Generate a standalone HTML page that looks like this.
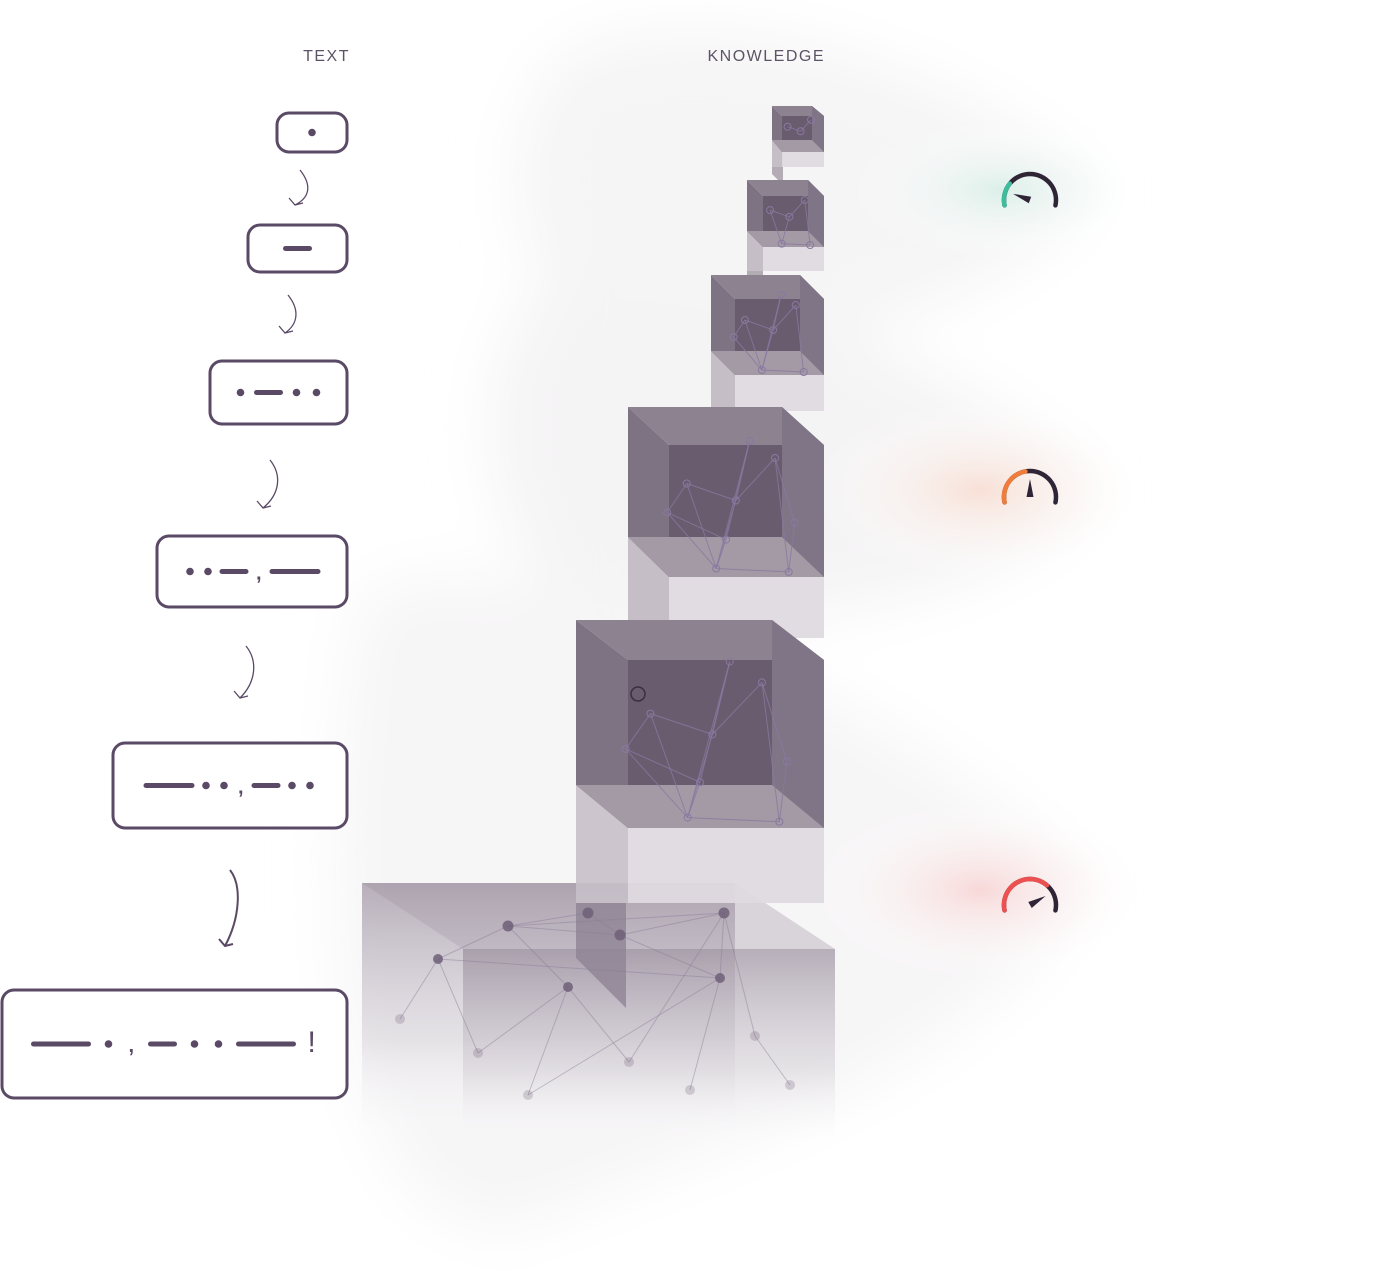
<!DOCTYPE html>
<html><head><meta charset="utf-8"><style>
html,body{margin:0;padding:0;background:#fff;}
#wrap{position:relative;width:1377px;height:1271px;overflow:hidden;font-family:"Liberation Sans",sans-serif;}
svg{position:absolute;left:0;top:0;}
</style></head><body>
<div id="wrap">
<svg id="s" width="1377" height="1271" viewBox="0 0 1377 1271">
<defs>
<filter id="blur40" x="-50%" y="-50%" width="200%" height="200%"><feGaussianBlur stdDeviation="30"/></filter>
<linearGradient id="fadeBig" x1="0" y1="0" x2="0" y2="1">
<stop offset="0" stop-color="#9a8f9e" stop-opacity="0.7"/>
<stop offset="0.6" stop-color="#c9c3cc" stop-opacity="0.4"/>
<stop offset="1" stop-color="#ffffff" stop-opacity="0"/>
</linearGradient>
<radialGradient id="gTeal"><stop offset="0" stop-color="#dcefe9"/><stop offset="1" stop-color="#fff" stop-opacity="0"/></radialGradient>
<radialGradient id="gOrange"><stop offset="0" stop-color="#f8e0d6"/><stop offset="1" stop-color="#fff" stop-opacity="0"/></radialGradient>
<radialGradient id="gRed"><stop offset="0" stop-color="#f8d8d8"/><stop offset="1" stop-color="#fff" stop-opacity="0"/></radialGradient>
</defs>
<g filter="url(#blur40)">
<path d="M560 60 C700 -20 1000 80 1090 190 C1000 330 700 380 580 320 C500 260 500 120 560 60Z" fill="#f6f5f6"/>
<path d="M530 300 C650 220 1000 380 1090 490 C1000 620 700 640 560 600 C480 520 470 380 530 300Z" fill="#f5f4f5"/>
<path d="M360 600 C520 500 1000 760 1080 890 C980 1080 700 1150 520 1230 C360 1240 300 1000 360 600Z" fill="#f7f6f7"/>
</g>
<ellipse cx="1000" cy="190" rx="150" ry="70" fill="url(#gTeal)"/>
<ellipse cx="980" cy="490" rx="170" ry="90" fill="url(#gOrange)"/>
<ellipse cx="980" cy="890" rx="170" ry="90" fill="url(#gRed)"/>
<text x="350" y="61" text-anchor="end" font-size="16" letter-spacing="1.5" fill="#5d5366" font-family="Liberation Sans, sans-serif">TEXT</text>
<text x="825" y="61" text-anchor="end" font-size="16" letter-spacing="1.5" fill="#5d5366" font-family="Liberation Sans, sans-serif">KNOWLEDGE</text>
<g id="boxes"></g>
<g id="cubes"></g>
<g id="gauges"></g>
</svg>
</div>
<script>
const NS='http://www.w3.org/2000/svg';
function mk(tag,attrs,parent){const e=document.createElementNS(NS,tag);for(const k in attrs)e.setAttribute(k,attrs[k]);parent.appendChild(e);return e;}
const boxes=document.getElementById('boxes');
const ink='#5a4a66';
const boxRects=[[277,113,70,39],[248,225,99,47],[210,361,137,63],[157,536,190,71],[113,743,234,85],[2,990,345,108]];
const boxTokens=[["d"],["s"],["d","s","d","d"],["d","d","s","c","l"],["l","d","d","c","s","d","d"],["L","d","c","s","d","d","L","e"]];
const boxGap=[9,9,12,10,10,16];
const arrows=[[300,170,295,205],[288,295,285,333],[270,460,263,508],[246,646,240,698],[230,870,225,946]];
boxRects.forEach((r,i)=>{
  const g=mk('g',{},boxes);
  
  
  mk('rect',{x:r[0],y:r[1],width:r[2],height:r[3],rx:12,fill:'#fff',stroke:ink,'stroke-width':3},g);
  const toks=boxTokens[i];
  const W={d:8,s:24,l:46,L:55,c:6,e:6};
  const gap=boxGap[i];
  let total=toks.reduce((a,t)=>a+W[t],0)+gap*(toks.length-1);
  let x=r[0]+r[2]/2-total/2; const cy=r[1]+r[3]/2;
  toks.forEach(t=>{
    if(t=='d')mk('circle',{cx:x+4,cy:cy,r:3.8,fill:ink},g);
    else if(t=='c')mk('text',{x:x,y:cy+8,'font-size':20,'font-weight':'bold',fill:ink},g).textContent=',';
    else if(t=='e')mk('text',{x:x-2,y:cy+8,'font-size':30,fill:ink},g).textContent='!';
    else mk('line',{x1:x,y1:cy,x2:x+W[t],y2:cy,stroke:ink,'stroke-width':5,'stroke-linecap':'round'},g);
    x+=W[t]+gap;
  });
});
arrows.forEach((a,i)=>{
  const p=mk('path',{d:`M${a[0]} ${a[1]} C${a[0]+12} ${a[1]+15} ${a[0]+10} ${(a[1]+a[3])/2+10} ${a[2]} ${a[3]} M${a[2]-6} ${a[3]-7} L${a[2]} ${a[3]} L${a[2]+8} ${a[3]-2}`,fill:'none',stroke:ink,'stroke-width':i==4?2:1.3},boxes);
  
  
});
const cubeFront=[[772,106,812,140],[747,180,808,231],[711,275,800,351],[628,407,782,537],[576,620,772,785]];
const cubeBack=[[782,116,824,152],[763,196,824,247],[735,299,824,375],[669,445,824,577],[628,660,824,828]];
const cubeBottom=[167,271,411,638,903];
const cg=document.getElementById('cubes');
(function(){
  const g=mk('g',{},cg);
  
  
  mk('polygon',{points:'362,883 735,883 835,949 463,949',fill:'#c4bdc7',opacity:0.6},g);
  mk('rect',{x:362,y:883,width:373,height:260,fill:'url(#fadeBig)'},g);
  mk('rect',{x:463,y:949,width:372,height:200,fill:'url(#fadeBig)'},g);
  mk('polygon',{points:'576,903 626,903 626,1008 576,958',fill:'#8e8393',opacity:0.8},g);
  const nodes=[[508,926],[588,913],[620,935],[724,913],[438,959],[568,987],[720,978],[400,1019],[478,1053],[629,1062],[690,1090],[528,1095],[755,1036],[790,1085]];
  const edges=[[0,1],[1,2],[0,2],[2,3],[0,3],[0,4],[4,7],[4,8],[0,5],[5,9],[5,8],[3,6],[6,10],[3,9],[2,6],[6,11],[5,11],[4,6],[3,12],[12,13]];
  edges.forEach(e=>mk('line',{x1:nodes[e[0]][0],y1:nodes[e[0]][1],x2:nodes[e[1]][0],y2:nodes[e[1]][1],stroke:'#8a7c98','stroke-width':1,opacity:0.45},g));
  nodes.forEach((n,i)=>mk('circle',{cx:n[0],cy:n[1],r:i<4?5.5:5,fill:'#6e5f78',opacity:i<7?0.85:0.25},g));
})();
[[772,140,783,185],[747,231,763,296],[711,351,735,459],[628,537,669,720]].forEach((r,i)=>{
  const p=mk('polygon',{points:`${r[0]},${r[1]} ${r[2]},${r[1]} ${r[2]},${r[3]} ${r[0]},${r[3]-(r[2]-r[0])}`,fill:'#7c7080',opacity:0.55},cg);
  
  
});
cubeFront.forEach((f,i)=>{
  const b=cubeBack[i];
  const g=mk('g',{},cg);
  
  
  mk('rect',{x:f[0],y:f[3],width:b[0]-f[0],height:cubeBottom[i]-f[3],fill:'#c6c0c9',opacity:0.9},g);
  mk('rect',{x:b[0],y:b[3],width:b[2]-b[0],height:cubeBottom[i]-b[3],fill:'#dedadf',opacity:0.95},g);
  mk('rect',{x:b[0],y:b[1],width:b[2]-b[0],height:b[3]-b[1],fill:'#6f6273'},g);
  mk('polygon',{points:`${f[0]},${f[1]} ${b[0]},${b[1]} ${b[0]},${b[3]} ${f[0]},${f[3]}`,fill:'#7e7383'},g);
  mk('polygon',{points:`${f[0]},${f[1]} ${f[2]},${f[1]} ${b[2]},${b[1]} ${b[0]},${b[1]}`,fill:'#8d8290'},g);
  mk('polygon',{points:`${f[2]},${f[1]} ${b[2]},${b[1]} ${b[2]},${b[3]} ${f[2]},${f[3]}`,fill:'#807586'},g);
  mk('polygon',{points:`${f[0]},${f[3]} ${f[2]},${f[3]} ${b[2]},${b[3]} ${b[0]},${b[3]}`,fill:'#a39aa5'},g);
  // darker overlap of front rect over back
  mk('rect',{x:b[0],y:b[1],width:f[2]-b[0],height:f[3]-b[1],fill:'#66586a',opacity:0.6},g);
  const w=b[2]-f[0],h=b[3]-f[1];
  const rel=[[0.3,0.45],[0.55,0.55],[0.75,0.3],[0.45,0.95],[0.82,0.97],[0.2,0.62],[0.62,0.2],[0.85,0.68],[0.5,0.78]];
  const edges=[[0,1],[1,2],[0,3],[1,3],[2,4],[3,4],[0,5],[5,3],[6,1],[6,3],[7,4],[2,7],[8,3],[5,8],[6,8]];
  const n=Math.min(rel.length,3+i*2);
  const pts=rel.slice(0,n).map(p=>[f[0]+p[0]*w,f[1]+p[1]*h]);
  edges.forEach(e=>{if(e[0]<n&&e[1]<n)mk('line',{x1:pts[e[0]][0],y1:pts[e[0]][1],x2:pts[e[1]][0],y2:pts[e[1]][1],stroke:'#8a78a0','stroke-width':1,opacity:0.8},g);});
  pts.forEach(p=>mk('circle',{cx:p[0],cy:p[1],r:3.5,fill:'none',stroke:'#8a78a0','stroke-width':1},g));
});
mk('circle',{cx:638,cy:694,r:7,fill:'none',stroke:'#3a2e40','stroke-width':1.5},cg);
const gaugeY=[200,497,905];
const gaugeColor=['#3dbd9b','#f07c3a','#ec5050'];
const gaugeFrac=[0.25,0.45,0.7];
const needleAng=[200,270,330];
const gg=document.getElementById('gauges');
function pt(cx,cy,r,deg){const a=deg*Math.PI/180;return [cx+r*Math.cos(a),cy+r*Math.sin(a)];}
gaugeY.forEach((cy,i)=>{
  const cx=1030,r=26,a0=168,a1=372;
  const g=mk('g',{},gg);
  
  
  const s=pt(cx,cy,r,a0),e=pt(cx,cy,r,a1);
  mk('path',{d:`M${s[0]} ${s[1]} A${r} ${r} 0 1 1 ${e[0]} ${e[1]}`,fill:'none',stroke:'#2f2537','stroke-width':4.5,'stroke-linecap':'round'},g);
  const m=pt(cx,cy,r,a0+(a1-a0)*gaugeFrac[i]);
  mk('path',{d:`M${s[0]} ${s[1]} A${r} ${r} 0 0 1 ${m[0]} ${m[1]}`,fill:'none',stroke:gaugeColor[i],'stroke-width':4.5,'stroke-linecap':'round'},g);
  const t=pt(cx,cy,18,needleAng[i]),l=pt(cx,cy,3.5,needleAng[i]+90),rr=pt(cx,cy,3.5,needleAng[i]-90);
  mk('polygon',{points:`${t[0]},${t[1]} ${l[0]},${l[1]} ${rr[0]},${rr[1]}`,fill:'#2f2537'},g);
});
</script>
</body></html>
